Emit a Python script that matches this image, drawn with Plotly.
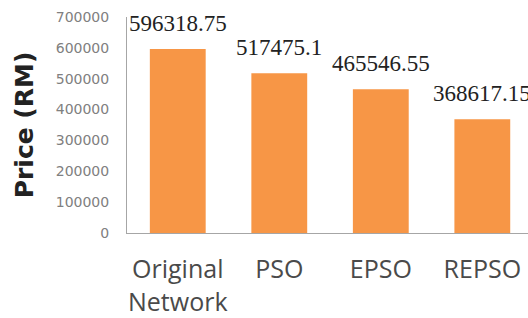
import plotly.graph_objects as go

categories = ["Original<br>Network", "PSO", "EPSO", "REPSO"]
prices = [596318.75, 517475.1, 465546.55, 368617.15]
price_labels = ["596318.75", "517475.1", "465546.55", "368617.15"]
y_ticks = [0, 100000, 200000, 300000, 400000, 500000, 600000, 700000]

fig = go.Figure()
fig.add_trace(go.Bar(
    x=list(range(len(categories))),
    y=prices,
    width=0.55,
    marker=dict(color="#F79646", line=dict(width=0)),
))

for i, (v, lab) in enumerate(zip(prices, price_labels)):
    fig.add_annotation(
        x=i, y=v, text=lab, showarrow=False,
        xanchor="center", yanchor="bottom", yshift=11,
        font=dict(family="Liberation Serif", size=23, color="#222222"),
    )

fig.update_layout(
    width=528, height=318,
    margin=dict(l=127, r=0, t=17, b=85, autoexpand=False),
    paper_bgcolor="white", plot_bgcolor="white",
    showlegend=False,
    bargap=0.45,
)
fig.update_xaxes(
    range=[-0.5, 3.45],
    tickmode="array",
    tickvals=list(range(len(categories))),
    ticktext=categories,
    tickfont=dict(family="Open Sans", size=25, color="#4a4a4a"),
    showline=True, linecolor="#a6a6a6", linewidth=1,
    showgrid=False, zeroline=False, ticks="",
    ticklabelstandoff=14, automargin=False,
)
fig.update_yaxes(
    range=[0, 700000],
    tickmode="array",
    tickvals=y_ticks,
    ticktext=[str(t) for t in y_ticks],
    tickfont=dict(family="DejaVu Sans", size=14, color="#808080"),
    showline=True, linecolor="#a6a6a6", linewidth=1,
    showgrid=False, zeroline=False, ticks="",
    ticklabelstandoff=14, automargin=False,
    title=dict(text="Price (RM)", standoff=14,
               font=dict(family="DejaVu Sans", size=25, color="#222222", weight="bold")),
)

fig.write_html("out.html", config={"displayModeBar": False},
               post_script="document.body.style.margin='0';")
